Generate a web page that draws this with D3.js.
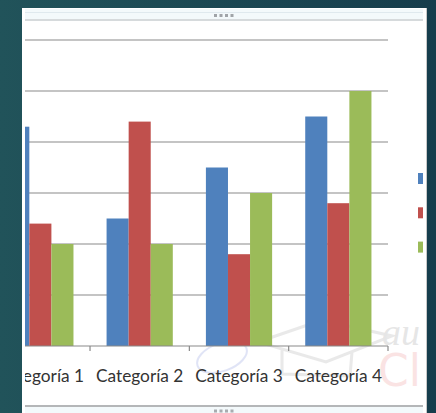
<!DOCTYPE html>
<html><head><meta charset="utf-8">
<script src="https://cdn.jsdelivr.net/npm/d3@7"></script>
<style>html,body{margin:0;padding:0;overflow:hidden;background:#1b4852}</style>
</head><body>
<script>
const categories = ["Categoría 1","Categoría 2","Categoría 3","Categoría 4"];
const seriesNames = ["Serie 1","Serie 2","Serie 3"];
const serie1 = [4.3, 2.5, 3.5, 4.5];
const serie2 = [2.4, 4.4, 1.8, 2.8];
const serie3 = [2, 2, 3, 5];
const yTicks = [0,1,2,3,4,5,6];
const colors = ["#4f81bd","#c0504d","#9bbb59"];

const W=436,H=413;
const svg=d3.select("body").append("svg").attr("width",W).attr("height",H);
const defs=svg.append("defs");
const g0=defs.append("linearGradient").attr("id","bg").attr("x1","0").attr("x2","1").attr("y1","0").attr("y2","0");
g0.append("stop").attr("offset","0").attr("stop-color","#21535a");
g0.append("stop").attr("offset","1").attr("stop-color","#163d4c");
svg.append("rect").attr("width",W).attr("height",H).attr("fill","url(#bg)");

// panel
svg.append("rect").attr("x",22).attr("y",8).attr("width",405).attr("height",410).attr("fill","#ffffff");
svg.append("line").attr("x1",426.5).attr("x2",426.5).attr("y1",8).attr("y2",413).attr("stroke","#c8c8c8");
// top handle bar
svg.append("rect").attr("x",25).attr("y",9).attr("width",398).attr("height",10).attr("fill","#f3f9fb");
svg.append("line").attr("x1",25).attr("x2",423).attr("y1",12.5).attr("y2",12.5).attr("stroke","#dfe9ee");
svg.append("rect").attr("x",25).attr("y",19).attr("width",398).attr("height",2).attr("fill","#d6dadc");
[0,1,2,3].forEach(i=>svg.append("rect").attr("x",214+i*5.5).attr("y",14).attr("width",3).attr("height",3).attr("fill","#a0a4a8"));
// bottom handle bar
svg.append("rect").attr("x",25).attr("y",405).attr("width",398).attr("height",2).attr("fill","#b4b6b8");
svg.append("rect").attr("x",25).attr("y",407).attr("width",398).attr("height",6).attr("fill","#f3f9fb");
[0,1,2,3].forEach(i=>svg.append("rect").attr("x",214+i*5.5).attr("y",409.5).attr("width",3).attr("height",3).attr("fill","#a8acb0"));

defs.append("clipPath").attr("id","clip").append("rect").attr("x",25).attr("y",22).attr("width",398).attr("height",382);
const g=svg.append("g").attr("clip-path","url(#clip)");

// watermark
const wm=g.append("g").attr("opacity",0.18);
wm.append("path").attr("d","M258,342 L322,320 L392,336 L326,362 Z M282,350 L282,374 L350,376 L352,352").attr("fill","none").attr("stroke","#888").attr("stroke-width",3);
wm.append("ellipse").attr("cx",222).attr("cy",357).attr("rx",26).attr("ry",14).attr("transform","rotate(-20 222 357)").attr("fill","none").attr("stroke","#5a6fd0").attr("stroke-width",2);
wm.append("text").attr("x",382).attr("y",345).attr("font-family","Liberation Serif").attr("font-style","italic").attr("font-size",38).attr("fill","#777").text("au");
g.append("text").attr("x",378).attr("y",386).attr("font-family","DejaVu Sans").attr("font-size",44).attr("fill","#e86a6a").attr("opacity",0.18).text("Cl");

const x=d3.scaleBand().domain(categories).range([-9.3,388]).paddingInner(0).paddingOuter(0);
const cw=x.bandwidth();
const x1=d3.scaleBand().domain(seriesNames).range([cw*0.75/4.5, cw*3.75/4.5]);
const y=d3.scaleLinear().domain([0,6]).range([346,40]);

// gridlines
g.selectAll("line.grid").data(yTicks.filter(t=>t>0)).join("line").attr("class","grid")
 .attr("x1",-9.3).attr("x2",388).attr("y1",d=>y(d)).attr("y2",d=>y(d))
 .attr("stroke","#8a8a8a").attr("stroke-width",1.2);

const data=[serie1,serie2,serie3];
categories.forEach((c,ci)=>{
  seriesNames.forEach((s,si)=>{
    g.append("rect").attr("x",x(c)+x1(s)).attr("width",x1.bandwidth())
     .attr("y",y(data[si][ci])).attr("height",y(0)-y(data[si][ci]))
     .attr("fill",colors[si]);
  });
});

// x axis
const ax=g.append("g").attr("transform","translate(0,346)");
ax.append("line").attr("x1",-9.3).attr("x2",388).attr("stroke","#8a8a8a").attr("stroke-width",1.2);
const bounds=categories.map(c=>x(c)).concat([388]);
ax.selectAll("line.tk").data(bounds).join("line").attr("class","tk")
 .attr("x1",d=>d).attr("x2",d=>d).attr("y1",0).attr("y2",5).attr("stroke","#8a8a8a").attr("stroke-width",1.2);
ax.selectAll("text").data(categories).join("text")
 .attr("x",d=>x(d)+cw/2).attr("y",35.5).attr("text-anchor","middle")
 .attr("font-family","Lato").attr("font-size",17.3).attr("fill","#333").text(d=>d);

// legend markers (legend labels fall outside the visible area)
const lg=g.append("g");
seriesNames.forEach((s,i)=>{
  lg.append("rect").attr("x",418).attr("y",173+i*34.3).attr("width",10).attr("height",11).attr("fill",colors[i]);
});
</script>
</body></html>
